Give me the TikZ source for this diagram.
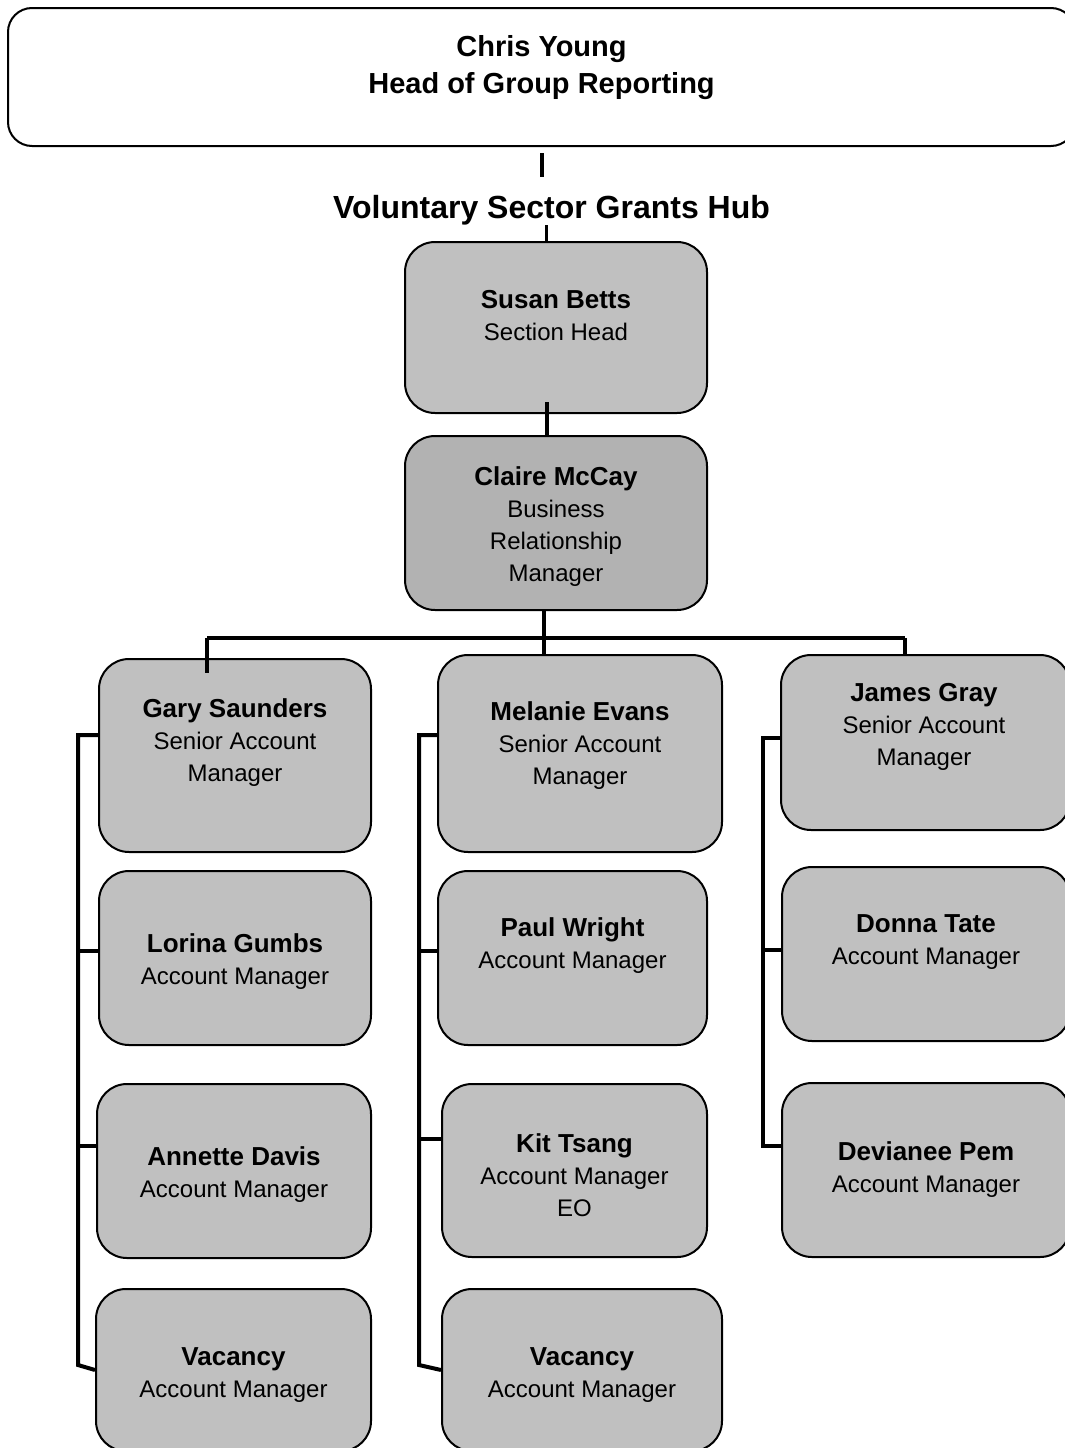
\documentclass[tikz,border=0pt]{standalone}
\usepackage{fontspec}
\setmainfont{Liberation Sans}
\definecolor{boxgray}{HTML}{C0C0C0}
\definecolor{darkgray}{HTML}{B2B2B2}
\tikzset{
  box/.style={draw=black, line width=2pt, fill=boxgray, rounded corners=30pt, inner sep=0pt},
  topbox/.style={draw=black, line width=2pt, fill=white, rounded corners=24pt, inner sep=0pt},
  txt/.style={align=center, inner sep=0pt, yshift=-2.5pt, font=\fontsize{24}{32}\selectfont},
  conn/.style={draw=black, line width=4pt},
}
\newcommand{\nm}[1]{{\fontsize{26}{33}\selectfont\bfseries #1}}
\begin{document}
\begin{tikzpicture}[x=1pt,y=-1pt]
\useasboundingbox (0,0) rectangle (1065,1448);
% top
\node[topbox, minimum width=1067pt, minimum height=138pt] (chris) at (541.5,77) {};
\node[align=center, inner sep=0pt, yshift=-3pt, font=\fontsize{29}{37}\selectfont\bfseries] (chrisT) at (541.5,64.5) {Chris Young\\Head of Group Reporting};
\node[inner sep=0pt, yshift=-3pt, font=\fontsize{32}{38}\selectfont\bfseries] (hub) at (551.5,207) {Voluntary Sector Grants Hub};
% level boxes
\node[box, minimum width=302pt, minimum height=171pt] (susan) at (556,327.5) {};
\node[txt] (susanT) at (556,313) {\nm{Susan Betts}\\Section Head};
\node[box, fill=darkgray, minimum width=302pt, minimum height=174pt] (claire) at (556,523) {};
\node[txt] (claireT) at (556,524) {\nm{Claire McCay}\\Business\\Relationship\\Manager};
% left column
\node[box, minimum width=272pt, minimum height=193pt] (gary) at (235,755.5) {};
\node[txt] (garyT) at (235,740.5) {\nm{Gary Saunders}\\Senior Account\\Manager};
\node[box, minimum width=272pt, minimum height=174pt] (lorina) at (235,958) {};
\node[txt] (lorinaT) at (235,959.5) {\nm{Lorina Gumbs}\\Account Manager};
\node[box, minimum width=274pt, minimum height=174pt] (annette) at (234,1171) {};
\node[txt] (annetteT) at (234,1172.5) {\nm{Annette Davis}\\Account Manager};
\node[box, minimum width=275pt, minimum height=162pt] (vacL) at (233.5,1370) {};
\node[txt] (vacLT) at (233.5,1372.5) {\nm{Vacancy}\\Account Manager};
% middle column
\node[box, minimum width=284pt, minimum height=197pt] (melanie) at (580,753.5) {};
\node[txt] (melanieT) at (580,743.5) {\nm{Melanie Evans}\\Senior Account\\Manager};
\node[box, minimum width=269pt, minimum height=174pt] (paul) at (572.5,958) {};
\node[txt] (paulT) at (572.5,943.5) {\nm{Paul Wright}\\Account Manager};
\node[box, minimum width=265pt, minimum height=173pt] (kit) at (574.5,1170.5) {};
\node[txt] (kitT) at (574.5,1172.5) {\nm{Kit Tsang}\\Account Manager\\EO};
\node[box, minimum width=280pt, minimum height=162pt] (vacM) at (582,1370) {};
\node[txt] (vacMT) at (582,1372.5) {\nm{Vacancy}\\Account Manager};
% right column
\node[box, minimum width=289pt, minimum height=175pt] (james) at (925.5,742.5) {};
\node[txt] (jamesT) at (924,724.5) {\nm{James Gray}\\Senior Account\\Manager};
\node[box, minimum width=288pt, minimum height=174pt] (donna) at (926,954) {};
\node[txt] (donnaT) at (926,939.5) {\nm{Donna Tate}\\Account Manager};
\node[box, minimum width=288pt, minimum height=174pt] (devianee) at (926,1170) {};
\node[txt] (devianeeT) at (926,1167) {\nm{Devianee Pem}\\Account Manager};
% helper coordinates
\coordinate (xa) at (546.5,0);
\coordinate (xb) at (544,0);
\coordinate (bar) at (0,638);
\coordinate (xg) at (207,0);
\coordinate (xj) at (905,0);
\coordinate (lx) at (78,0);
\coordinate (mx) at (419,0);
\coordinate (rx) at (763,0);
% connectors
\draw[conn] ([yshift=-6pt]chris.south) -- ++(0,24);
\draw[conn, line width=3pt] (susan.north -| xa) -- ++(0,-16);
\draw[conn] ([yshift=12pt]susan.south -| xa) -- (claire.north -| xa);
\draw[conn] (claire.south -| xb) -- (melanie.north -| xb);
\draw[conn] (bar -| xg) -- (bar -| xj);
\draw[conn] (bar -| xg) -- ([yshift=-15pt]gary.north -| xg);
\draw[conn] (bar -| xj) -- (james.north -| xj);
% left bracket
\coordinate (l1) at (78,735);
\draw[conn] (gary.west |- l1) -- (l1) -- (78,1365) -- (vacL.west |- 0,1370);
\draw[conn] (lx |- 0,951) -- (lorina.west |- 0,951);
\draw[conn] (lx |- 0,1146) -- (annette.west |- 0,1146);
% middle bracket
\coordinate (m1) at (419,735);
\draw[conn] (melanie.west |- m1) -- (m1) -- (419,1365) -- (vacM.west |- 0,1370);
\draw[conn] (mx |- 0,951) -- (paul.west |- 0,951);
\draw[conn] (mx |- 0,1139) -- (kit.west |- 0,1139);
% right bracket
\coordinate (r1) at (763,738);
\draw[conn] (james.west |- r1) -- (r1) -- (763,1146) -- (devianee.west |- 0,1146);
\draw[conn] (rx |- 0,950) -- (donna.west |- 0,950);
\end{tikzpicture}
\end{document}
